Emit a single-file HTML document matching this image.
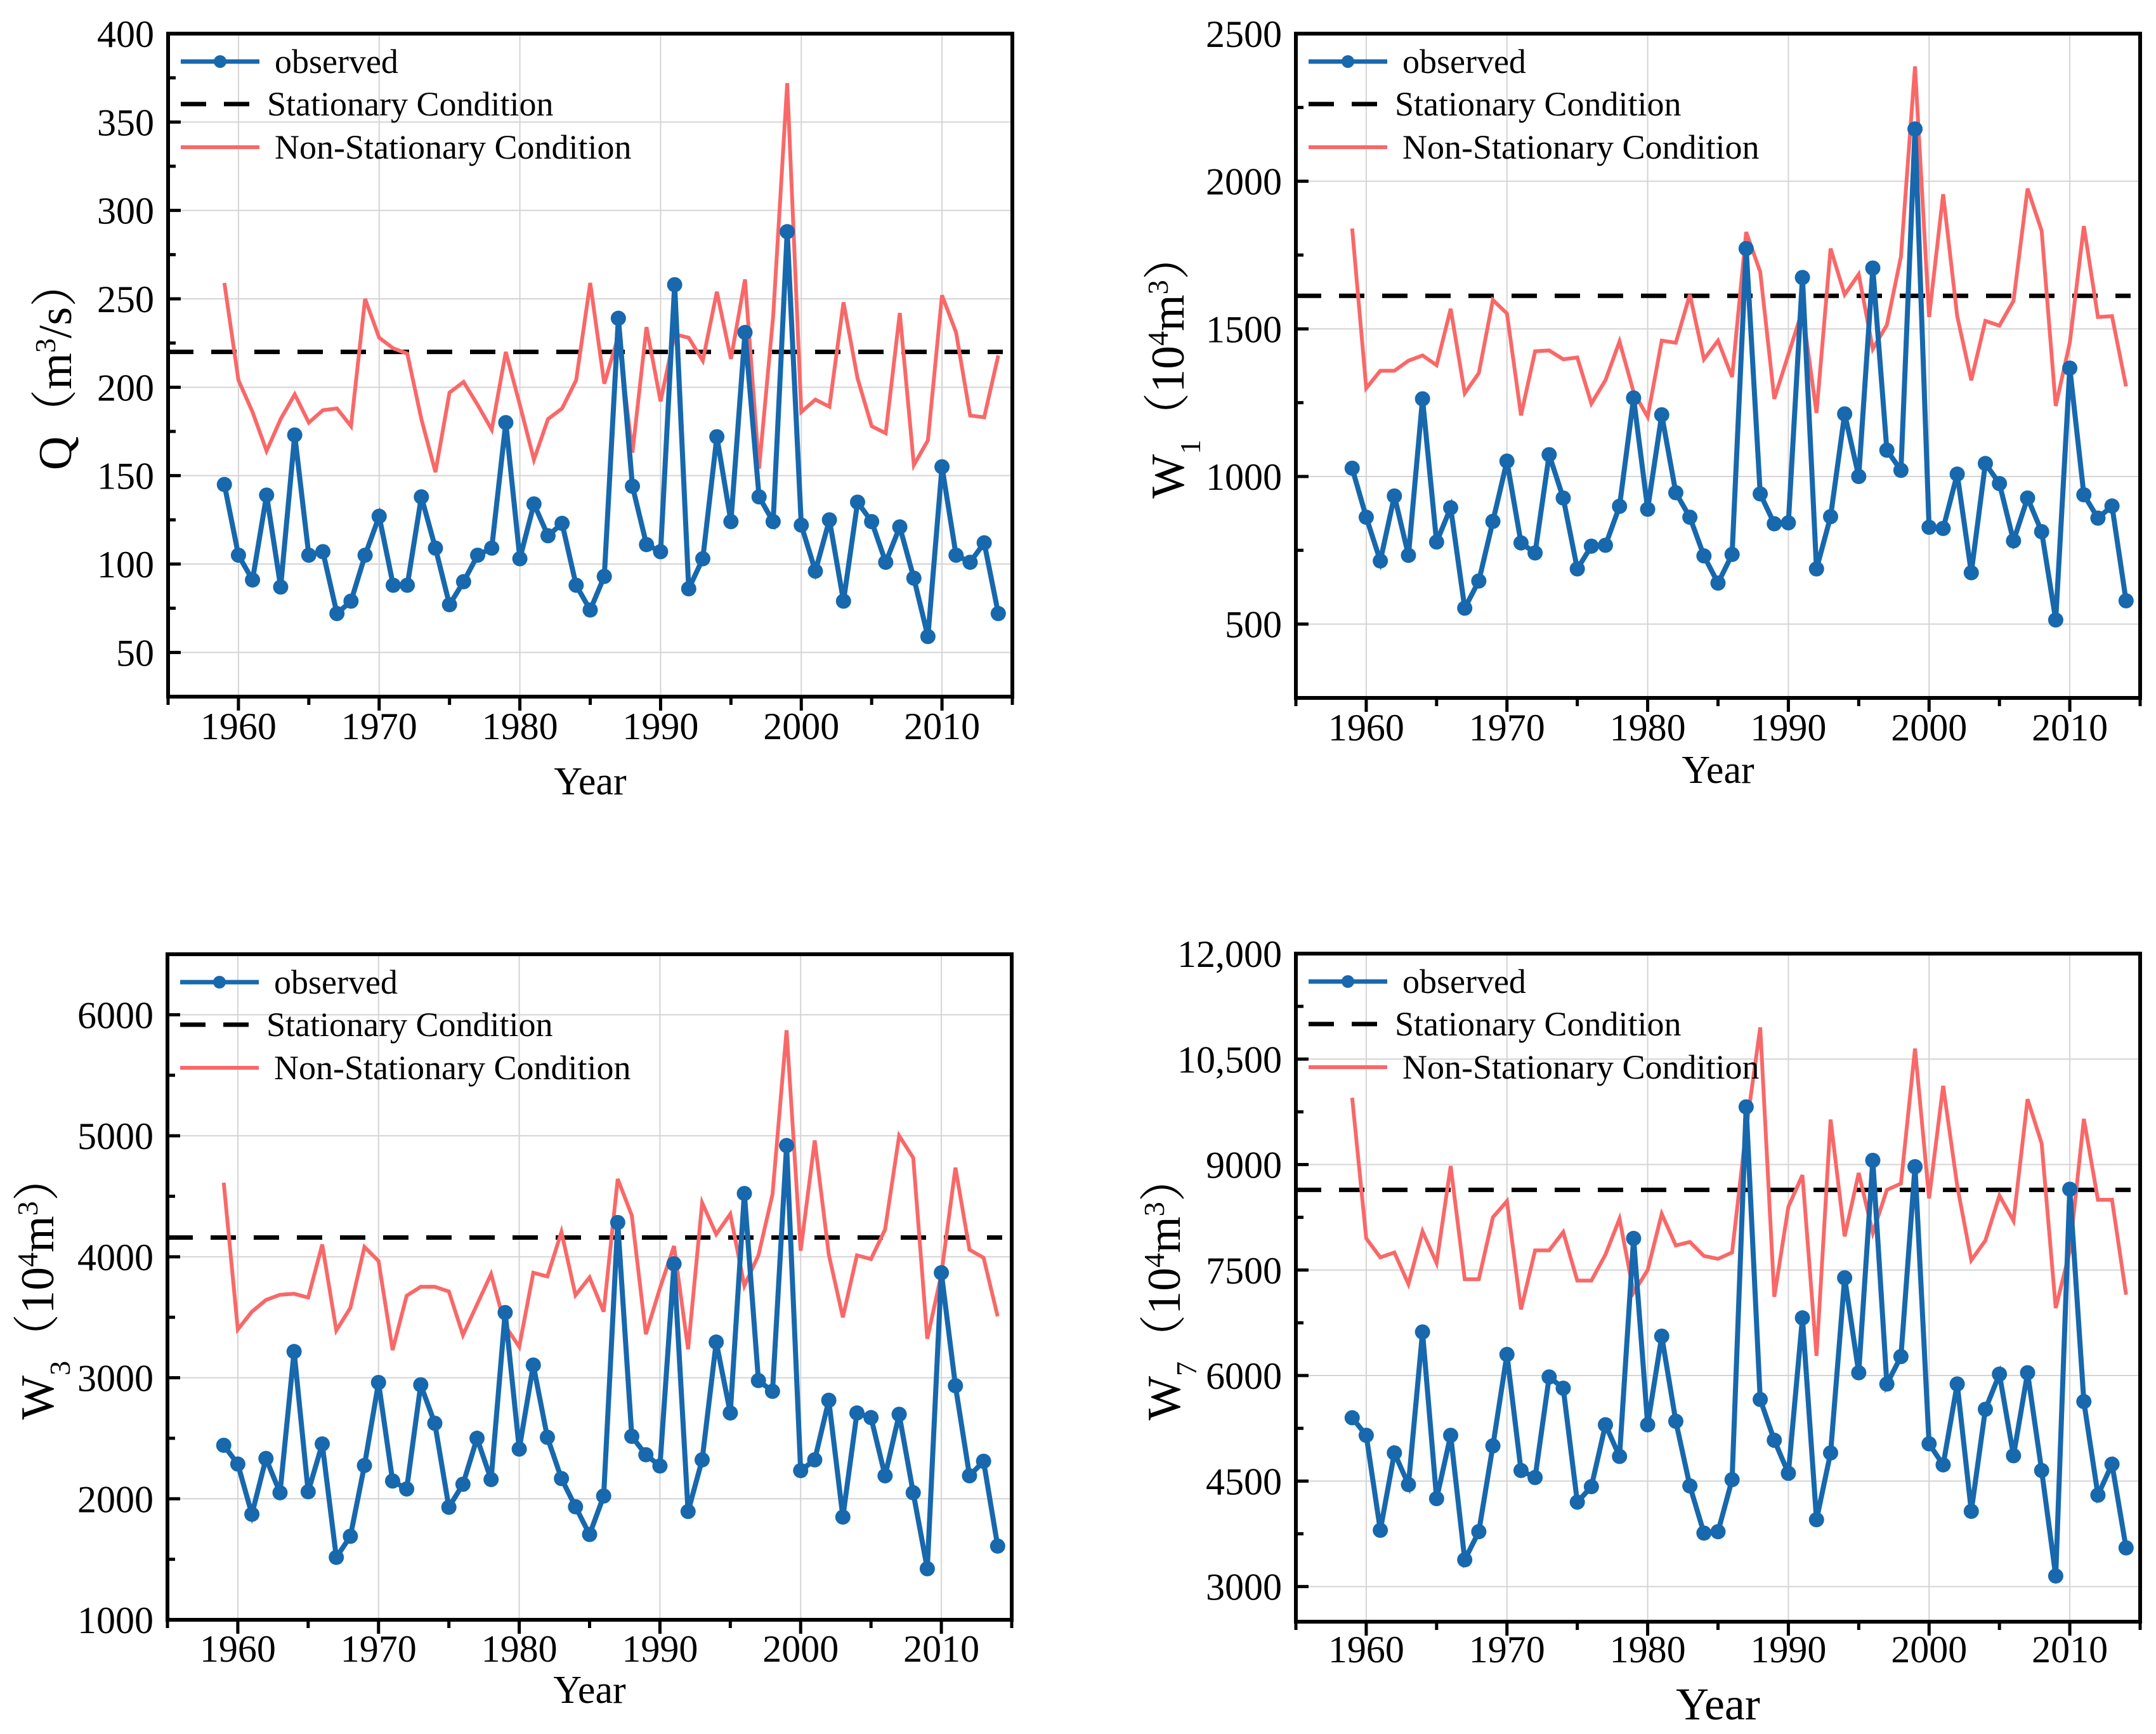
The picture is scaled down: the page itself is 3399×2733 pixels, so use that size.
<!DOCTYPE html>
<html><head><meta charset="utf-8"><style>
html,body{margin:0;padding:0;background:#fff}
svg{display:block}
text{font-family:"Liberation Serif","Noto Serif CJK SC",serif;fill:#000}
</style></head><body>
<svg id="fig" width="3399" height="2733" viewBox="0 0 3399 2733" xmlns="http://www.w3.org/2000/svg"></svg>
<script>
const years = [];
for (let y = 1959; y <= 2014; y++) years.push(y);
const xTicks = [1960, 1970, 1980, 1990, 2000, 2010];

const qObserved = [145,105,91,139,87,173,105,107,72,79,105,127,88,88,138,109,77,90,105,109,180,103,134,116,123,88,74,93,239,144,111,107,258,86,103,172,124,231,138,124,288,122,96,125,79,135,124,101,121,92,59,155,105,101,112,72];
const qNonStat = [259,204,186,164,182,196,180,187,188,178,250,228,222,219,182,152,197,203,190,176,220,190,159,182,188,204,259,202,229,163,234,192,230,228,215,254,216,261,154,240,372,186,193,189,248,205,178,174,242,156,170,252,231,184,183,218];
const qStat = 220;
const qTicks = [50,100,150,200,250,300,350,400];
const qTickLabels = ["50","100","150","200","250","300","350","400"];

const w1Observed = [1028,862,714,934,733,1263,778,894,554,646,848,1052,775,741,1074,927,687,764,767,899,1266,889,1209,945,862,731,639,736,1772,941,840,843,1674,687,864,1212,1000,1706,1089,1021,2177,828,824,1008,674,1044,976,782,927,813,514,1367,938,859,900,579];
const w1NonStat = [1840,1299,1358,1358,1392,1410,1377,1568,1282,1350,1598,1552,1207,1424,1427,1397,1403,1247,1326,1457,1286,1202,1460,1453,1616,1397,1460,1337,1828,1693,1263,1413,1563,1215,1772,1616,1685,1432,1513,1745,2389,1540,1956,1543,1326,1527,1511,1595,1975,1832,1239,1453,1848,1540,1543,1305];
const w1Stat = 1612;
const w1Ticks = [500,1000,1500,2000,2500];
const w1TickLabels = ["500","1000","1500","2000","2500"];

const w3Observed = [2442,2287,1872,2333,2050,3217,2058,2453,1516,1690,2275,2961,2147,2081,2942,2624,1930,2120,2500,2159,3539,2411,3105,2508,2167,1934,1705,2023,4283,2516,2364,2271,3942,1895,2322,3295,2709,4523,2977,2888,4919,2233,2322,2814,1849,2709,2671,2190,2698,2050,1422,3868,2934,2190,2310,1609];
const w3NonStat = [4612,3399,3546,3643,3686,3694,3663,4101,3391,3578,4081,3965,3229,3678,3752,3752,3713,3353,3605,3857,3430,3256,3868,3837,4205,3682,3829,3546,4643,4341,3360,3740,4089,3236,4446,4186,4353,3760,4012,4516,5872,4050,4961,4019,3500,4012,3981,4225,5000,4818,3322,3857,4736,4058,3992,3508];
const w3Stat = 4159;
const w3Ticks = [1000,2000,3000,4000,5000,6000];
const w3TickLabels = ["1000","2000","3000","4000","5000","6000"];

const w7Observed = [5400,5150,3800,4900,4450,6620,4250,5150,3380,3780,5000,6300,4650,4550,5980,5820,4200,4420,5300,4850,7950,5300,6560,5350,4430,3760,3780,4520,9820,5660,5080,4610,6820,3950,4900,7390,6040,9060,5880,6270,8970,5030,4730,5880,4070,5520,6020,4860,6040,4650,3150,8650,5630,4300,4740,3550];
const w7NonStat = [9950,7950,7680,7750,7300,8050,7600,8980,7370,7370,8250,8480,6940,7780,7780,8040,7350,7350,7720,8230,7180,7500,8300,7850,7900,7700,7660,7750,9500,10950,7120,8400,8850,6280,9640,7980,8880,8030,8640,8730,10650,8520,10120,8700,7640,7920,8560,8200,9930,9300,6960,7770,9650,8500,8500,7150];
const w7Stat = 8640;
const w7Ticks = [3000,4500,6000,7500,9000,10500,12000];
const w7TickLabels = ["3000","4500","6000","7500","9000","10,500","12,000"];

const NS = "http://www.w3.org/2000/svg";
const fig = document.getElementById('fig');
function mk(tag, attrs, parent) {
  const e = document.createElementNS(NS, tag);
  for (const k in attrs) e.setAttribute(k, attrs[k]);
  parent.appendChild(e);
  return e;
}
const BLUE = "#1768ad", RED = "#f96868";

function panel(cfg) {
  const g = mk('g', {}, fig);
  
  
  const L = cfg.x0, R = cfg.x1, T = cfg.y0, B = cfg.y1;
  const xs = v => L + (v - 1955) / 60 * (R - L);
  const ys = v => B - (v - cfg.ymin) / (cfg.ymax - cfg.ymin) * (B - T);
  const grid = mk('g', {}, g);
  
  
  xTicks.forEach(t => mk('line', {x1: xs(t), x2: xs(t), y1: T, y2: B, stroke: '#d4d4d4', 'stroke-width': 2}, grid));
  cfg.ticks.forEach(t => mk('line', {x1: L, x2: R, y1: ys(t), y2: ys(t), stroke: '#d4d4d4', 'stroke-width': 2}, grid));
  for (let t = 1955; t <= 2015; t += 5) {
    const major = t % 10 === 0;
    const tk = mk('line', {x1: xs(t), x2: xs(t), y1: B, y2: B + (major ? 22 : 13), stroke: '#000', 'stroke-width': 5}, g);
    
    
  }
  xTicks.forEach(t => {
    const tx = mk('text', {x: xs(t), y: cfg.xlabY, 'font-size': 60, 'text-anchor': 'middle'}, g);
    tx.textContent = String(t);
    
    
  });
  const step = cfg.ticks[1] - cfg.ticks[0];
  for (let v = cfg.ticks[0]; v <= cfg.ymax; v += step / 2) {
    const major = cfg.ticks.includes(v);
    const tk = mk('line', {x1: L, x2: L + (major ? 20 : 12), y1: ys(v), y2: ys(v), stroke: '#000', 'stroke-width': 5}, g);
    
    
  }
  cfg.ticks.forEach((t, i) => {
    const tx = mk('text', {x: L - 22, y: ys(t) + 21, 'font-size': 60, 'text-anchor': 'end'}, g);
    tx.textContent = cfg.tickLabels[i];
    
    
  });
  const st = mk('line', {x1: L, x2: R - 15, y1: ys(cfg.stat), y2: ys(cfg.stat), stroke: '#000', 'stroke-width': 7, 'stroke-dasharray': '40 28'}, g);
  
  
  const ns = mk('polyline', {points: cfg.non.map((v, i) => xs(years[i]) + ',' + ys(v)).join(' '), fill: 'none', stroke: RED, 'stroke-width': 6}, g);
  
  
  const ob = mk('polyline', {points: cfg.obs.map((v, i) => xs(years[i]) + ',' + ys(v)).join(' '), fill: 'none', stroke: BLUE, 'stroke-width': 8}, g);
  
  
  cfg.obs.forEach((v, i) => {
    const c = mk('circle', {cx: xs(years[i]), cy: ys(v), r: 12, fill: BLUE}, g);
    
    
  });
  const fr = mk('rect', {x: L, y: T, width: R - L, height: B - T, fill: 'none', stroke: '#000', 'stroke-width': 6}, g);
  
  
  const lg = mk('g', {}, g);
  
  
  const lx = L + 20, ly = T + 44;
  mk('line', {x1: lx, x2: lx + 124, y1: ly, y2: ly, stroke: BLUE, 'stroke-width': 7}, lg);
  mk('circle', {cx: lx + 62, cy: ly, r: 10, fill: BLUE}, lg);
  const t1 = mk('text', {x: lx + 148, y: ly + 18, 'font-size': 54}, lg);
  t1.textContent = 'observed';
  
  
  mk('line', {x1: lx, x2: lx + 124, y1: ly + 67, y2: ly + 67, stroke: '#000', 'stroke-width': 7, 'stroke-dasharray': '40 28'}, lg);
  const t2 = mk('text', {x: lx + 136, y: ly + 85, 'font-size': 54}, lg);
  t2.textContent = 'Stationary Condition';
  
  
  mk('line', {x1: lx, x2: lx + 124, y1: ly + 135, y2: ly + 135, stroke: RED, 'stroke-width': 6}, lg);
  const t3 = mk('text', {x: lx + 148, y: ly + 153, 'font-size': 54}, lg);
  t3.textContent = 'Non-Stationary Condition';
  
  
  const xt = mk('text', {x: (L + R) / 2, y: cfg.xTitleY, 'font-size': cfg.xTitleSize, 'text-anchor': 'middle'}, g);
  xt.textContent = 'Year';
  
  
  const yt = mk('text', {x: 0, y: 0, 'font-size': 74, 'text-anchor': 'middle', transform: `translate(${cfg.yTitleX},${(T + B) / 2}) rotate(-90)`}, g);
  yt.innerHTML = cfg.yTitle;
  
  
}

panel({name: 'chart-q', x0: 265, x1: 1596, y0: 53, y1: 1098, ymin: 25, ymax: 400, ticks: qTicks, tickLabels: qTickLabels, obs: qObserved, non: qNonStat, stat: qStat, xlabY: 1165, xTitleY: 1252, xTitleSize: 62, yTitleX: 112,
  yTitle: 'Q（m<tspan baseline-shift="super" font-size="46">3</tspan>/s）'});
panel({name: 'chart-w1', x0: 2043, x1: 3374, y0: 53, y1: 1100, ymin: 250, ymax: 2500, ticks: w1Ticks, tickLabels: w1TickLabels, obs: w1Observed, non: w1NonStat, stat: w1Stat, xlabY: 1167, xTitleY: 1234, xTitleSize: 62, yTitleX: 1866,
  yTitle: 'W<tspan baseline-shift="sub" font-size="46">1</tspan>（10<tspan baseline-shift="super" font-size="46">4</tspan>m<tspan baseline-shift="super" font-size="46">3</tspan>）'});
panel({name: 'chart-w3', x0: 264, x1: 1595, y0: 1504, y1: 2553, ymin: 1000, ymax: 6500, ticks: w3Ticks, tickLabels: w3TickLabels, obs: w3Observed, non: w3NonStat, stat: w3Stat, xlabY: 2619, xTitleY: 2684, xTitleSize: 62, yTitleX: 84,
  yTitle: 'W<tspan baseline-shift="sub" font-size="46">3</tspan>（10<tspan baseline-shift="super" font-size="46">4</tspan>m<tspan baseline-shift="super" font-size="46">3</tspan>）'});
panel({name: 'chart-w7', x0: 2043, x1: 3374, y0: 1503, y1: 2556, ymin: 2500, ymax: 12000, ticks: w7Ticks, tickLabels: w7TickLabels, obs: w7Observed, non: w7NonStat, stat: w7Stat, xlabY: 2620, xTitleY: 2710, xTitleSize: 72, yTitleX: 1860,
  yTitle: 'W<tspan baseline-shift="sub" font-size="46">7</tspan>（10<tspan baseline-shift="super" font-size="46">4</tspan>m<tspan baseline-shift="super" font-size="46">3</tspan>）'});
</script>
</body></html>
